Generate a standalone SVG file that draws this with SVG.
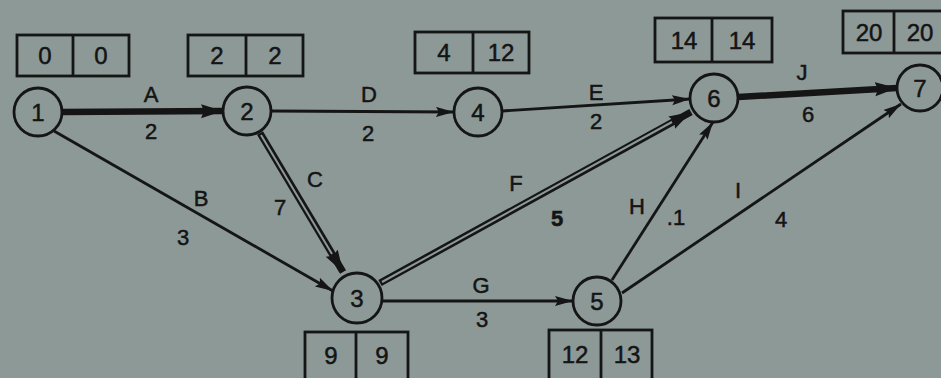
<svg xmlns="http://www.w3.org/2000/svg" width="941" height="378" viewBox="0 0 941 378">
<style>
.bg{fill:#8c9997}
.node circle{fill:#8c9997;stroke:#151515;stroke-width:2.8}
.node text,.box text,.lbl{font-family:"Liberation Sans",Arial,sans-serif;fill:#141414;text-anchor:middle;stroke:#141414;stroke-width:0.5}
.node text{font-size:24px}
.box rect,.box line{fill:none;stroke:#151515;stroke-width:2.8}
.box text{font-size:24px}
.lbl{font-size:22px}
.thin{stroke:#151515;stroke-width:2.8;fill:none}
.thick{stroke:#151515;stroke-width:6.5;fill:none}
.dblo{stroke:#151515;stroke-width:7;fill:none}
.dbli{stroke:#8c9997;stroke-width:2;fill:none}
</style>
<defs>
<marker id="ah" markerUnits="userSpaceOnUse" markerWidth="20" markerHeight="12" refX="18" refY="5" orient="auto">
<path d="M0,0 L18,5 L0,10 L3,5 z" fill="#151515"/>
</marker>
<marker id="ahb" markerUnits="userSpaceOnUse" markerWidth="24" markerHeight="16" refX="22" refY="7" orient="auto">
<path d="M0,0 L22,7 L0,14 L3,7 z" fill="#151515"/>
</marker>
</defs>
<rect class="bg" x="0" y="0" width="941" height="378"/>

<g id="connectors">
<line class="thick" x1="62" y1="112" x2="223" y2="111" marker-end="url(#ahb)"/>
<line class="thin" x1="54" y1="131" x2="333" y2="291" marker-end="url(#ah)"/>
<line class="dblo" x1="260" y1="133" x2="343" y2="272" marker-end="url(#ahb)"/>
<line class="dbli" x1="261" y1="135" x2="332" y2="254"/>
<line class="thin" x1="271" y1="111" x2="454" y2="112" marker-end="url(#ah)"/>
<line class="thin" x1="502" y1="111" x2="690" y2="99" marker-end="url(#ah)"/>
<line class="dblo" x1="380" y1="283" x2="691" y2="112" marker-end="url(#ahb)"/>
<line class="dbli" x1="382" y1="282" x2="672" y2="122"/>
<line class="thin" x1="382" y1="301" x2="573" y2="301" marker-end="url(#ah)"/>
<line class="thin" x1="612" y1="280" x2="713" y2="122" marker-end="url(#ah)"/>
<line class="thin" x1="622" y1="293" x2="901" y2="104" marker-end="url(#ah)"/>
<line class="thick" x1="738" y1="97" x2="897" y2="88" marker-end="url(#ahb)"/>
<text class="lbl" x="151" y="102">A</text>
<text class="lbl" x="151" y="139">2</text>
<text class="lbl" x="201" y="206">B</text>
<text class="lbl" x="183" y="245">3</text>
<text class="lbl" x="315" y="187">C</text>
<text class="lbl" x="280" y="215">7</text>
<text class="lbl" x="369" y="102">D</text>
<text class="lbl" x="368" y="141">2</text>
<text class="lbl" x="596" y="100">E</text>
<text class="lbl" x="596" y="129">2</text>
<text class="lbl" x="516" y="191">F</text>
<text class="lbl" x="557" y="226" font-weight="bold">5</text>
<text class="lbl" x="481" y="293">G</text>
<text class="lbl" x="482" y="327">3</text>
<text class="lbl" x="637" y="214">H</text>
<text class="lbl" x="676" y="225">.1</text>
<text class="lbl" x="738" y="198">I</text>
<text class="lbl" x="781" y="227">4</text>
<text class="lbl" x="802" y="80">J</text>
<text class="lbl" x="808" y="122">6</text>
</g>

<g id="node1" class="node"><circle cx="38" cy="112" r="24"/><text x="38" y="121">1</text></g>
<g id="node2" class="node"><circle cx="247" cy="111" r="24"/><text x="247" y="120">2</text></g>
<g id="node3" class="node"><circle cx="357" cy="298" r="25"/><text x="357" y="307">3</text></g>
<g id="node4" class="node"><circle cx="478" cy="112" r="24"/><text x="478" y="121">4</text></g>
<g id="node5" class="node"><circle cx="597" cy="301" r="24"/><text x="597" y="310">5</text></g>
<g id="node6" class="node"><circle cx="714" cy="98" r="24"/><text x="714" y="107">6</text></g>
<g id="node7" class="node"><circle cx="920" cy="88" r="23"/><text x="920" y="97">7</text></g>

<g id="box1" class="box"><rect x="17" y="35" width="112" height="41"/><line x1="73" y1="35" x2="73" y2="76"/><text x="45" y="64">0</text><text x="101" y="64">0</text></g>
<g id="box2" class="box"><rect x="188" y="35" width="115" height="41"/><line x1="246" y1="35" x2="246" y2="76"/><text x="217" y="64">2</text><text x="275" y="64">2</text></g>
<g id="box4" class="box"><rect x="415" y="32" width="114" height="41"/><line x1="473" y1="32" x2="473" y2="73"/><text x="444" y="61">4</text><text x="501" y="61">12</text></g>
<g id="box6" class="box"><rect x="655" y="18" width="117" height="44"/><line x1="712" y1="18" x2="712" y2="62"/><text x="684" y="49">14</text><text x="742" y="49">14</text></g>
<g id="box7" class="box"><rect x="843" y="11" width="104" height="42"/><line x1="894" y1="11" x2="894" y2="53"/><text x="869" y="41">20</text><text x="920" y="41">20</text></g>
<g id="box3" class="box"><rect x="305" y="332" width="103" height="48"/><line x1="356" y1="332" x2="356" y2="380"/><text x="331" y="364">9</text><text x="382" y="364">9</text></g>
<g id="box5" class="box"><rect x="549" y="330" width="103" height="50"/><line x1="601" y1="330" x2="601" y2="380"/><text x="575" y="363">12</text><text x="627" y="363">13</text></g>
</svg>
